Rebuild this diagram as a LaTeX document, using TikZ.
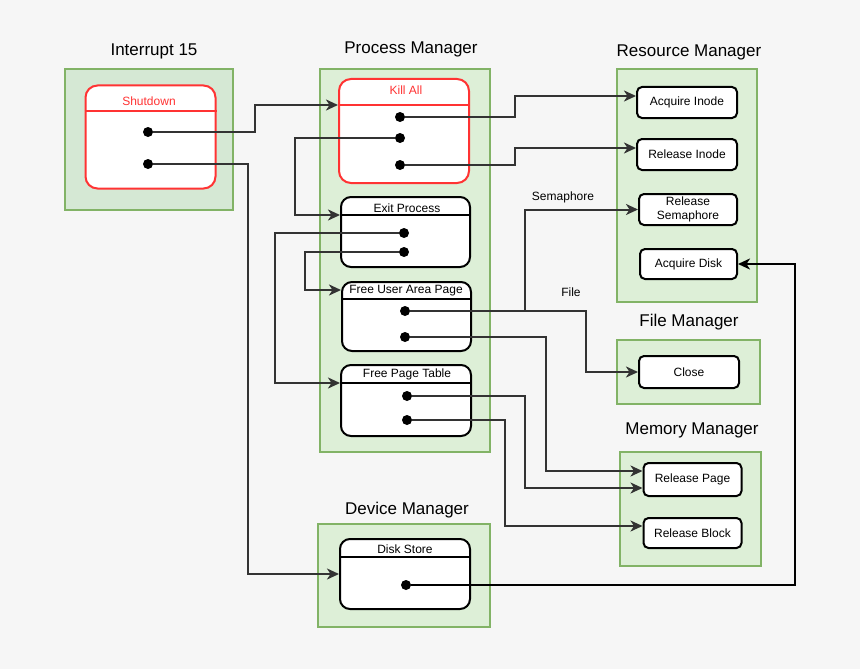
\documentclass[tikz,border=0pt]{standalone}
\usepackage{fontspec}
\setmainfont{Liberation Sans}
\usetikzlibrary{arrows.meta}
\definecolor{bgc}{HTML}{F6F6F6}
\definecolor{grpfill}{HTML}{DDEFD7}
\definecolor{grpdark}{HTML}{D5E8D4}
\definecolor{grpline}{HTML}{82B366}
\definecolor{redline}{HTML}{FF3333}
\definecolor{linkc}{HTML}{333333}
\begin{document}
\begin{tikzpicture}[x=1pt,y=-1pt]
\tikzstyle{group}=[draw=grpline, fill=grpfill, line width=2pt, inner sep=0pt]
\tikzstyle{title}=[font=\fontsize{17}{20}\selectfont, inner sep=0pt]
\tikzstyle{lane}=[draw, fill=white, line width=2pt, rounded corners=10pt, inner sep=0pt]
\tikzstyle{redlane}=[lane, draw=redline, rounded corners=12pt]
\tikzstyle{func}=[draw, fill=white, line width=2pt, rounded corners=5pt, inner sep=0pt, font=\fontsize{12}{14}\selectfont, align=center]
\tikzstyle{lbl}=[font=\fontsize{12}{14}\selectfont, inner sep=0pt]
\tikzstyle{port}=[circle, fill=black, minimum size=10pt, inner sep=0pt]
\tikzstyle{link}=[draw=linkc, line width=2pt, -{Stealth[length=12pt,width=11pt,inset=3.5pt]}]
\useasboundingbox (0,0) rectangle (860,669);
\fill[bgc] (0,0) rectangle (860,669);

\node[title] (intrT) at (154,51) {Interrupt 15};
\node[title] (procT) at (411,49) {Process Manager};
\node[title] (resT) at (689,52) {Resource Manager};
\node[title] (fileT) at (689,322) {File Manager};
\node[title] (memT) at (692,430) {Memory Manager};
\node[title] (devT) at (407,510) {Device Manager};

\node[group, fill=grpdark, minimum width=168pt, minimum height=140pt] (intr) at (148.5,139.5) {};
\node[group, minimum width=170pt, minimum height=383pt] (proc) at (405,260.5) {};
\node[group, minimum width=140pt, minimum height=233pt] (res) at (687,185.5) {};
\node[group, minimum width=143pt, minimum height=64pt] (file) at (688.5,372) {};
\node[group, minimum width=141pt, minimum height=114pt] (mem) at (690.5,509) {};
\node[group, minimum width=172pt, minimum height=103pt] (dev) at (404,575.5) {};

\node[redlane, minimum width=130pt, minimum height=103pt] (shut) at (150.5,137) {};
\node[redlane, minimum width=130pt, minimum height=104pt] (kill) at (404,131) {};
\node[lane, minimum width=129pt, minimum height=70pt] (exit) at (405.5,232) {};
\node[lane, minimum width=129pt, minimum height=69pt] (fuap) at (406.5,316.5) {};
\node[lane, minimum width=130pt, minimum height=71pt] (fpt) at (406,400.5) {};
\node[lane, minimum width=130pt, minimum height=70pt] (disk) at (405,574) {};

\draw[redline, line width=2pt] (shut.west |- 0,111) -- (shut.east |- 0,111);
\draw[redline, line width=2pt] (kill.west |- 0,105) -- (kill.east |- 0,105);
\draw[line width=2pt] (exit.west |- 0,215) -- (exit.east |- 0,215);
\draw[line width=2pt] (fuap.west |- 0,299) -- (fuap.east |- 0,299);
\draw[line width=2pt] (fpt.west |- 0,383) -- (fpt.east |- 0,383);
\draw[line width=2pt] (disk.west |- 0,557) -- (disk.east |- 0,557);

\node[lbl, text=redline] (shutL) at (149,101) {Shutdown};
\node[lbl, text=redline] (killL) at (406,90) {Kill All};
\node[lbl] (exitL) at (407,208) {Exit Process};
\node[lbl] (fuapL) at (406,291) {Free User Area Page};
\node[lbl] (fptL) at (407,374) {Free Page Table};
\node[lbl] (diskL) at (405,549) {Disk Store};

\node[func, minimum width=100pt, minimum height=31pt] (acq) at (687,102.5) {Acquire Inode};
\node[func, minimum width=100pt, minimum height=31pt] (relI) at (687,154.5) {Release Inode};
\node[func, minimum width=98pt, minimum height=31pt] (relS) at (688,209.5) {Release\\Semaphore};
\node[func, minimum width=97pt, minimum height=30pt] (acqD) at (688.5,264) {Acquire Disk};
\node[func, minimum width=100pt, minimum height=32pt] (close) at (689,372) {Close};
\node[func, minimum width=98pt, minimum height=33pt] (relP) at (692.5,479.5) {Release Page};
\node[func, minimum width=98pt, minimum height=30pt] (relB) at (692.5,533) {Release Block};

\node[port] (s1) at (148,132) {};
\node[port] (s2) at (148,164) {};
\node[port] (k1) at (400,117) {};
\node[port] (k2) at (400,138) {};
\node[port] (k3) at (400,165) {};
\node[port] (e1) at (404,233) {};
\node[port] (e2) at (404,252) {};
\node[port] (u1) at (405,311) {};
\node[port] (u2) at (405,337) {};
\node[port] (t1) at (407,396) {};
\node[port] (t2) at (407,420) {};
\node[port] (d1) at (406,585) {};

\node[lbl] (semL) at (563,197) {Semaphore};
\node[lbl] (fileL) at (571,292) {File};

\draw[link] (s1) -- ++(107,0) |- ([yshift=26pt]kill.west);
\draw[link] (s2) -- ++(100,0) |- (disk.west);
\draw[link] (k1) -- ++(115,0) |- ([yshift=6.5pt]acq.west);
\draw[link] (k3) -- ++(115,0) |- ([yshift=6.5pt]relI.west);
\draw[link] (k2) -- ++(-105,0) |- ([yshift=17pt]exit.west);
\draw[link] (e1) -- ++(-129,0) |- ([yshift=17.5pt]fpt.west);
\draw[link] (e2) -- ++(-99,0) |- ([yshift=26.5pt]fuap.west);
\draw[link] (u1) -- ++(120,0) |- (relS.west);
\draw[link] (u1) -- ++(181,0) |- (close.west);
\draw[link] (u2) -- ++(141,0) |- ([yshift=8.5pt]relP.west);
\draw[link] (t1) -- ++(118,0) |- ([yshift=-8.5pt]relP.west);
\draw[link] (t2) -- ++(98,0) |- ([yshift=7pt]relB.west);
\draw[link, draw=black] (d1) -- ++(389,0) |- (acqD.east);
\end{tikzpicture}
\end{document}
